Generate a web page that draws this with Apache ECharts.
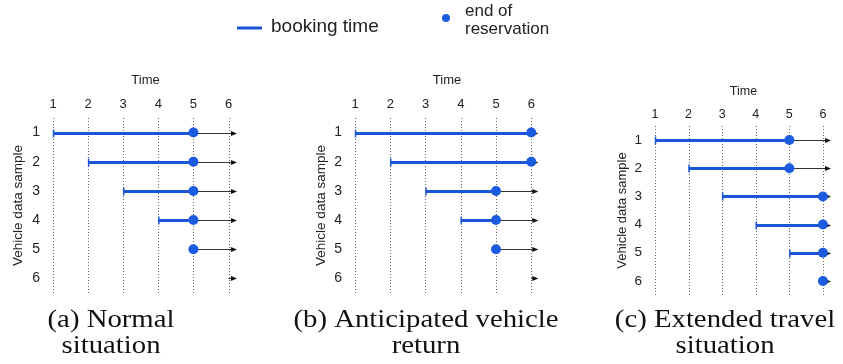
<!DOCTYPE html>
<html>
<head>
<meta charset="utf-8">
<script src="https://cdn.jsdelivr.net/npm/echarts@6/dist/echarts.min.js"></script>
<style>
html,body{margin:0;padding:0;background:#fff;}
#chart{width:843px;height:364px;}
</style>
</head>
<body>
<div id="chart"></div>
<script>
// ---- data ----
const xTicks = [1, 2, 3, 4, 5, 6];
const rows = ['1', '2', '3', '4', '5', '6'];

// (a) Normal situation
const startA = [1, 2, 3, 4, 5, null];
const endA = [5, 5, 5, 5, 5, null];
const arrowFromA = [5, 5, 5, 5, 5, 6];
const arrowToA = 6.24;

// (b) Anticipated vehicle return
const startB = [1, 2, 3, 4, 5, null];
const endB = [6, 6, 5, 5, 5, null];
const arrowFromB = [6, 6, 5, 5, 5, 6];
const arrowToB = 6.2;

// (c) Extended travel situation
const startC = [1, 2, 3, 4, 5, 6];
const endC = [5, 5, 6, 6, 6, 6];
const arrowFromC = [5, 5, 6, 6, 6, 6];
const arrowToC = 6.24;

const captions = ['(a) Normal\nsituation', '(b) Anticipated vehicle\nreturn', '(c) Extended travel\nsituation'];

// ---- styles ----
const BLUE = '#1a56d6';
const DOT = '#1b5be0';
const TXT = '#222';
const SANS = 'Liberation Sans, Arial, sans-serif';

const panels = [
  {start: startA, end: endA, from: arrowFromA, to: arrowToA, max: 6.27, grid: {left: 53, top: 118, width: 185, height: 175}, yGap: 28, fs: 13, lm: 7, ng: 31},
  {start: startB, end: endB, from: arrowFromB, to: arrowToB, max: 6.22, grid: {left: 355, top: 118, width: 184, height: 175}, yGap: 27, fs: 13, lm: 7, ng: 31},
  {start: startC, end: endC, from: arrowFromC, to: arrowToC, max: 6.27, grid: {left: 655, top: 126, width: 177, height: 169}, yGap: 26, fs: 12.5, lm: 5, ng: 28}
];

const grid = [], xAxis = [], yAxis = [], series = [];

panels.forEach((p, i) => {
  grid.push(Object.assign({containLabel: false}, p.grid));
  xAxis.push({
    type: 'value', gridIndex: i, position: 'top', min: 1, max: p.max, interval: 1,
    axisLine: {show: false}, axisTick: {show: false}, splitLine: {show: false},
    axisLabel: {fontSize: p.fs, color: TXT, fontFamily: SANS, margin: p.lm,
      formatter: v => (Number.isInteger(v) ? String(v) : '')},
    name: 'Time', nameLocation: 'middle', nameGap: p.ng,
    nameTextStyle: {fontSize: p.fs, color: TXT, fontFamily: SANS}
  });
  yAxis.push({
    type: 'category', gridIndex: i, data: rows, inverse: true, boundaryGap: true,
    axisLine: {show: false}, axisTick: {show: false}, splitLine: {show: false},
    axisLabel: {fontSize: p.fs + 1, color: TXT, fontFamily: SANS, margin: 13},
    name: 'Vehicle data sample', nameLocation: 'middle', nameGap: p.yGap,
    nameTextStyle: {fontSize: p.fs + 0.5, color: TXT, fontFamily: SANS}
  });

  // dotted vertical grid lines
  series.push({
    type: 'custom', xAxisIndex: i, yAxisIndex: i, silent: true, z: 1,
    data: xTicks.map(v => [v]),
    encode: {x: 0},
    renderItem: (params, api) => {
      const cs = params.coordSys;
      const x = Math.round(api.coord([api.value(0), 0])[0]) + 0.5;
      return {type: 'line', shape: {x1: x, y1: cs.y, x2: x, y2: cs.y + cs.height},
        style: {stroke: '#666', lineWidth: 1, lineDash: [1, 2]}};
    }
  });

  // arrows
  series.push({
    type: 'custom', xAxisIndex: i, yAxisIndex: i, silent: true, z: 2,
    data: rows.map((r, k) => [p.from[k], p.to, r]),
    encode: {x: [0, 1], y: 2},
    renderItem: (params, api) => {
      const a = api.coord([api.value(0), api.value(2)]);
      const b = api.coord([api.value(1), api.value(2)]);
      const y = Math.round(a[1]) + 0.5;
      return {type: 'group', children: [
        {type: 'line', shape: {x1: a[0], y1: y, x2: b[0] - 4, y2: y}, style: {stroke: '#333', lineWidth: 1}},
        {type: 'polygon', shape: {points: [[b[0], y], [b[0] - 6, y - 2.5], [b[0] - 6, y + 2.5]]}, style: {fill: '#111'}}
      ]};
    }
  });

  // booking time bars
  series.push({
    type: 'custom', name: 'booking time', xAxisIndex: i, yAxisIndex: i, silent: true, z: 3,
    data: rows.map((r, k) => [p.start[k], p.end[k], r]).filter(d => d[0] !== null && d[1] > d[0]),
    encode: {x: [0, 1], y: 2},
    renderItem: (params, api) => {
      const a = api.coord([api.value(0), api.value(2)]);
      const b = api.coord([api.value(1), api.value(2)]);
      const y = Math.round(a[1]) + 0.5;
      return {type: 'group', children: [
        {type: 'line', shape: {x1: a[0], y1: y, x2: b[0], y2: y}, style: {stroke: BLUE, lineWidth: 3}},
        {type: 'line', shape: {x1: a[0] + 0.5, y1: y - 4, x2: a[0] + 0.5, y2: y + 4}, style: {stroke: BLUE, lineWidth: 1.5}}
      ]};
    }
  });

  // end of reservation dots
  series.push({
    type: 'scatter', name: 'end of reservation', xAxisIndex: i, yAxisIndex: i, silent: true, z: 4,
    symbolSize: 10, itemStyle: {color: DOT, opacity: 1},
    data: rows.map((r, k) => [p.end[k], r]).filter(d => d[0] !== null)
  });
});

const centers = [111, 426, 725];
const graphic = [
  // legend
  {type: 'line', shape: {x1: 237, y1: 28, x2: 262, y2: 28}, style: {stroke: BLUE, lineWidth: 3}},
  {type: 'text', left: 271, top: 17, style: {text: 'booking time', fontSize: 19, fontFamily: SANS, fill: TXT}},
  {type: 'circle', shape: {cx: 446, cy: 18, r: 4}, style: {fill: DOT}},
  {type: 'text', left: 465, top: 2, style: {text: 'end of\nreservation', fontSize: 17, lineHeight: 18, fontFamily: SANS, fill: TXT}}
];
captions.forEach((c, i) => {
  graphic.push({type: 'text', x: centers[i], y: 307, scaleX: 1.15,
    style: {text: c, fontSize: 25, lineHeight: 26, fontFamily: 'Liberation Serif, Times New Roman, serif', fill: '#111', align: 'center', verticalAlign: 'top'}});
});

const chart = echarts.init(document.getElementById('chart'), null, {renderer: 'canvas'});
chart.setOption({
  animation: false,
  backgroundColor: '#fff',
  grid, xAxis, yAxis, series, graphic
});
</script>
</body>
</html>
